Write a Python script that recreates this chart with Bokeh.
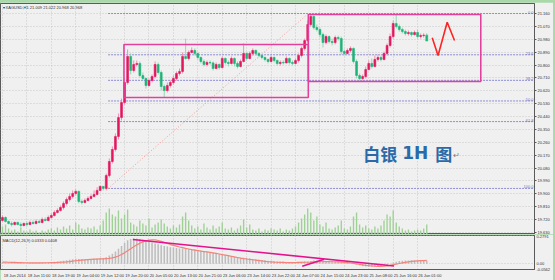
from bokeh.plotting import figure
from bokeh.models import Range1d, FixedTicker, Label, PrintfTickFormatter, ColumnDataSource
from bokeh.layouts import column
from bokeh.embed import file_html
from bokeh.resources import INLINE
from bokeh.core.properties import value

# ---------------- data (XAGUSD, H1) ----------------
first_open = 19.714
closes = [
    19.735, 19.707, 19.693, 19.686, 19.700, 19.686, 19.679, 19.693, 19.686, 19.700,
    19.693, 19.707, 19.700, 19.721, 19.714, 19.735, 19.749, 19.770, 19.784, 19.805,
    19.833, 19.861, 19.882, 19.903, 19.917, 19.847, 19.840, 19.854, 19.868, 19.882,
    19.896, 19.924, 19.952, 19.938, 20.028, 20.126, 20.210, 20.301, 20.433, 20.538,
    20.678, 20.860, 20.762, 20.804, 20.811, 20.727, 20.706, 20.657, 20.692, 20.720,
    20.804, 20.748, 20.650, 20.622, 20.657, 20.678, 20.706, 20.741, 20.755, 20.860,
    20.846, 20.888, 20.902, 20.881, 20.853, 20.825, 20.804, 20.818, 20.815, 20.776,
    20.804, 20.783, 20.846, 20.818, 20.811, 20.846, 20.811, 20.790, 20.825, 20.881,
    20.846, 20.881, 20.902, 20.881, 20.867, 20.853, 20.839, 20.825, 20.853, 20.832,
    20.811, 20.818, 20.815, 20.846, 20.818, 20.811, 20.832, 20.867, 20.916, 20.971,
    21.083, 21.139, 21.062, 21.048, 21.013, 20.957, 20.999, 20.964, 20.957, 20.992,
    20.985, 20.895, 20.881, 20.902, 20.916, 20.825, 20.727, 20.706, 20.720, 20.769,
    20.811, 20.790, 20.839, 20.853, 20.839, 20.881, 20.937, 20.999, 21.090, 21.069,
    21.048, 21.034, 21.020, 21.027, 21.013, 21.027, 20.999, 21.006, 21.009, 20.968,
]
highs = [
    19.749, 19.742, 19.714, 19.707, 19.707, 19.707, 19.700, 19.700, 19.707, 19.714,
    19.714, 19.721, 19.721, 19.735, 19.735, 19.749, 19.763, 19.784, 19.798, 19.819,
    19.847, 19.875, 19.903, 19.924, 19.931, 19.924, 19.861, 19.868, 19.882, 19.896,
    19.924, 19.945, 19.959, 19.952, 20.042, 20.147, 20.231, 20.322, 20.461, 20.566,
    20.706, 20.909, 20.881, 20.832, 20.832, 20.825, 20.748, 20.713, 20.706, 20.734,
    20.825, 20.818, 20.762, 20.664, 20.678, 20.692, 20.727, 20.755, 20.776, 20.888,
    20.985, 20.902, 20.923, 20.916, 20.888, 20.860, 20.839, 20.832, 20.832, 20.825,
    20.818, 20.811, 20.860, 20.853, 20.832, 20.860, 20.853, 20.825, 20.839, 20.951,
    20.888, 20.895, 20.916, 20.909, 20.888, 20.874, 20.860, 20.846, 20.867, 20.860,
    20.839, 20.832, 20.832, 20.860, 20.853, 20.832, 20.846, 20.881, 20.930, 20.985,
    21.111, 21.153, 21.160, 21.083, 21.062, 21.027, 21.013, 21.006, 20.985, 21.006,
    21.006, 20.999, 20.909, 20.916, 20.930, 20.923, 20.839, 20.741, 20.734, 20.790,
    20.832, 20.846, 20.867, 20.874, 20.867, 20.895, 20.951, 21.020, 21.111, 21.160,
    21.083, 21.062, 21.048, 21.041, 21.034, 21.041, 21.048, 21.020, 21.022, 21.022,
]
lows = [
    19.707, 19.700, 19.686, 19.672, 19.679, 19.679, 19.665, 19.672, 19.672, 19.679,
    19.686, 19.686, 19.693, 19.693, 19.707, 19.707, 19.728, 19.742, 19.763, 19.777,
    19.791, 19.819, 19.847, 19.868, 19.889, 19.833, 19.826, 19.833, 19.847, 19.861,
    19.875, 19.889, 19.924, 19.924, 19.924, 20.014, 20.112, 20.196, 20.280, 20.413,
    20.524, 20.664, 20.734, 20.748, 20.790, 20.713, 20.692, 20.636, 20.650, 20.678,
    20.706, 20.734, 20.622, 20.573, 20.608, 20.643, 20.664, 20.692, 20.727, 20.741,
    20.839, 20.832, 20.881, 20.867, 20.839, 20.811, 20.790, 20.790, 20.804, 20.762,
    20.769, 20.769, 20.776, 20.804, 20.790, 20.804, 20.790, 20.776, 20.783, 20.818,
    20.832, 20.839, 20.867, 20.867, 20.853, 20.839, 20.825, 20.811, 20.818, 20.818,
    20.797, 20.797, 20.804, 20.811, 20.804, 20.797, 20.804, 20.818, 20.853, 20.902,
    20.958, 21.069, 21.048, 21.034, 20.992, 20.923, 20.944, 20.951, 20.937, 20.944,
    20.971, 20.874, 20.867, 20.874, 20.888, 20.811, 20.706, 20.692, 20.692, 20.706,
    20.762, 20.776, 20.783, 20.825, 20.825, 20.832, 20.867, 20.923, 20.985, 21.055,
    21.034, 21.020, 21.006, 21.006, 20.999, 21.006, 20.985, 20.985, 20.992, 20.968,
]
volumes = [
    800, 1000, 600, 400, 500, 300, 700, 400, 300, 500,
    300, 400, 200, 400, 300, 500, 600, 400, 700, 500,
    800, 600, 900, 500, 1200, 1000, 600, 500, 700, 600,
    800, 500, 900, 1400, 2200, 2600, 2000, 1800, 2400, 1600,
    2000, 2500, 1200, 1000, 800, 1400, 1100, 900, 1600, 700,
    1000, 1200, 1500, 1100, 800, 600, 900, 700, 1000, 1800,
    2200, 1400, 900, 600, 800, 500, 1100, 700, 500, 900,
    600, 800, 1200, 600, 500, 700, 400, 600, 900, 1500,
    700, 1000, 500, 400, 600, 300, 500, 400, 600, 500,
    400, 600, 300, 500, 400, 600, 800, 1200, 1600, 2000,
    2600, 2200, 1400, 1800, 1000, 800, 1200, 600, 500, 700,
    900, 1400, 600, 500, 800, 1800, 2200, 1000, 700, 900,
    600, 500, 800, 600, 900, 1400, 2000, 1800, 2400, 1200,
    800, 600, 400, 500, 300, 400, 500, 400, 600, 1000,
]
macd_main = [
    0.015, 0.013, 0.012, 0.010, 0.010, 0.009, 0.008, 0.008, 0.008, 0.008,
    0.009, 0.009, 0.010, 0.011, 0.012, 0.014, 0.016, 0.019,
    0.022, 0.026, 0.030, 0.035, 0.040, 0.045, 0.050, 0.048, 0.047, 0.046,
    0.046, 0.047, 0.049, 0.052, 0.055, 0.056,
    0.065, 0.082, 0.100, 0.122, 0.148, 0.175, 0.205, 0.232,
    0.245, 0.250, 0.250, 0.246, 0.238, 0.228, 0.218, 0.208, 0.200,
    0.192, 0.184, 0.176, 0.170, 0.164, 0.160, 0.156, 0.152, 0.150, 0.148,
    0.146, 0.143, 0.140, 0.136, 0.132,
    0.126, 0.120, 0.114, 0.107, 0.100, 0.095, 0.090, 0.084, 0.078, 0.070,
    0.066, 0.062, 0.060, 0.060, 0.056,
    0.052, 0.048, 0.045, 0.042, 0.038, 0.034, 0.030, 0.027, 0.025, 0.023,
    0.021, 0.020, 0.018, 0.017, 0.015, 0.014, 0.016, 0.020, 0.026,
    0.022, 0.028, 0.032, 0.033, 0.032, 0.030, 0.028, 0.026, 0.024, 0.022,
    0.020, 0.016, 0.012, 0.008, 0.004,
    -0.002, -0.010, -0.018, -0.024, -0.028, -0.030, -0.030, -0.029, -0.027, -0.024,
    -0.018, -0.010, 0.000, 0.012, 0.020,
    0.027, 0.030, 0.032, 0.033, 0.034, 0.034, 0.034, 0.033, 0.033, 0.031,
]
macd_signal = [
    0.016, 0.016, 0.015, 0.014, 0.013, 0.012, 0.011, 0.010, 0.010, 0.009,
    0.009, 0.009, 0.009, 0.009, 0.010, 0.010, 0.011, 0.012,
    0.013, 0.015, 0.017, 0.019, 0.022, 0.026, 0.030, 0.033, 0.036, 0.039,
    0.042, 0.044, 0.046, 0.047, 0.048, 0.049,
    0.050, 0.053, 0.058, 0.066, 0.077, 0.091, 0.108, 0.128,
    0.148, 0.168, 0.187, 0.203, 0.216, 0.226, 0.233, 0.237, 0.236,
    0.230, 0.222, 0.212, 0.201, 0.190, 0.182, 0.174, 0.166, 0.159, 0.152,
    0.146, 0.140, 0.135, 0.130, 0.125,
    0.121, 0.117, 0.113, 0.108, 0.103, 0.097, 0.091, 0.086, 0.080, 0.074,
    0.068, 0.062, 0.056, 0.051, 0.047,
    0.044, 0.040, 0.036, 0.032, 0.028, 0.024, 0.020, 0.018, 0.016, 0.015,
    0.014, 0.013, 0.012, 0.012, 0.012, 0.012, 0.013, 0.014, 0.015,
    0.015, 0.016, 0.018, 0.019, 0.020, 0.021, 0.021, 0.021, 0.020, 0.019,
    0.018, 0.016, 0.014, 0.011, 0.008,
    0.004, 0.000, -0.005, -0.010, -0.015, -0.019, -0.022, -0.024, -0.025, -0.025,
    -0.023, -0.020, -0.015, -0.009, -0.003,
    0.003, 0.009, 0.014, 0.019, 0.023, 0.026, 0.029, 0.031, 0.032, 0.033,
]
time_tick_bars = [0, 8, 16, 24, 32, 40, 48, 56, 64, 72, 80, 88, 96, 104, 112, 120, 128, 136]
time_tick_labels = [
    "18 Jun 2014", "18 Jun 11:00", "18 Jun 19:00", "19 Jun 04:00", "19 Jun 12:00",
    "19 Jun 20:00", "20 Jun 05:00", "20 Jun 13:00", "20 Jun 21:00", "23 Jun 06:00",
    "23 Jun 14:00", "23 Jun 22:00", "24 Jun 07:00", "24 Jun 15:00", "24 Jun 23:00",
    "25 Jun 08:00", "25 Jun 16:00", "26 Jun 01:00",
]
price_ticks = [19.630, 19.720, 19.810, 19.900, 19.990, 20.080, 20.170, 20.260, 20.350,
               20.440, 20.530, 20.620, 20.710, 20.800, 20.890, 20.980, 21.070, 21.160]
macd_ticks = [-0.0562, 0.0, 0.2791]
macd_tick_labels = ["-0.0562", "0.00", "0.2791"]

# Fibonacci retracement
fib_low, fib_high = 19.938, 21.160
fib_start_bar, fib_end_bar = 34.6, 100.2
fib_levels = [0.0, 23.6, 38.2, 50.0, 61.8, 100.0]
fib_labels = ["0.0", "23.6", "38.2", "50.0", "61.8", "100.0"]

# rectangles (ranges) drawn on the chart
box_left = [39.8, 100.2]
box_right = [100.2, 156.7]
box_top = [20.944, 21.153]
box_bottom = [20.573, 20.685]

# projected zig-zag
zig_bar = [140.8, 142.7, 145.7, 148.1]
zig_price = [20.990, 20.867, 21.099, 20.971]

# MACD trend lines
trend_a_bar = [42.7, 128.3]
trend_a_val = [0.240, -0.0215]
trend_b_bar = [98.2, 105.4]
trend_b_val = [-0.0244, 0.044]

header_text = "\u25be XAGUSD,H1  21.009 21.022 20.968 20.968"
macd_text = "MACD(12,26,9) 0.0333 0.0408"
last_price = 20.968
note_parts = ["\u767d\u94f6", "1H", "\u56fe", "\u21b5"]
note_bar, note_price = 118.2, 20.182

# ---------------- build ----------------
n = len(closes)
bars = list(range(n))
opens = [first_open] + closes[:-1]
is_up = [c >= o for o, c in zip(opens, closes)]
UP, DOWN = "#e3175f", "#1fb377"
src = ColumnDataSource(dict(
    x=bars, h=highs, l=lows,
    top=[max(o, c) for o, c in zip(opens, closes)],
    bottom=[min(o, c) for o, c in zip(opens, closes)],
    bc=[UP if u else DOWN for u in is_up],
    wc=["#f08fae" if u else "#8fd8b8" for u in is_up],
    vol=volumes, macd=macd_main, sig=macd_signal,
))

X0, X1 = -0.65, 174.3
xr = Range1d(X0, X1)
BG = "#f0f0f0"
AX = "#5a5a5a"
FONT = "Liberation Sans"
CHROME = "#a9d8a9"
NOTE_BLUE = "#2b6aa8"

p = figure(width=553, height=232, x_range=xr, y_range=Range1d(19.616, 21.230),
           x_axis_location=None, y_axis_location="right",
           toolbar_location=None, output_backend="svg",
           min_border_left=0, min_border_right=17, min_border_top=1, min_border_bottom=0,
           background_fill_color=BG, border_fill_color=BG, outline_line_color=AX)
p.extra_y_ranges = {"vol": Range1d(0, 23000)}

ya = p.yaxis[0]
ya.ticker = FixedTicker(ticks=price_ticks)
ya.formatter = PrintfTickFormatter(format="%.3f")
ya.major_label_text_font_size = "4px"
ya.major_label_text_font = FONT
ya.major_label_text_color = "#303030"
ya.axis_line_color = AX
ya.major_tick_line_color = AX
ya.major_tick_out = 2
ya.major_tick_in = 0
ya.minor_tick_line_color = None
ya.major_label_standoff = 1

p.ygrid.ticker = FixedTicker(ticks=price_ticks)
p.xgrid.ticker = FixedTicker(ticks=time_tick_bars)
for g in (p.xgrid[0], p.ygrid[0]):
    g.grid_line_color = "#c8c8c8"
    g.grid_line_dash = "1 2"

# volume
p.vbar(x="x", width=0.45, top="vol", bottom=0, y_range_name="vol",
       fill_color="#9fd196", line_color=None, source=src)

# fibonacci
fib_prices = [fib_high - (fib_high - fib_low) * lv / 100.0 for lv in fib_levels]
p.segment(x0=[fib_start_bar] * len(fib_prices), x1=[X1] * len(fib_prices),
          y0=fib_prices, y1=fib_prices, line_color="#8c8cd6", line_dash="2 1", line_width=1)
p.text(x=[X1] * len(fib_prices), y=fib_prices, text=fib_labels, x_offset=-1,
       text_align="right", text_baseline="bottom", text_font_size="4px",
       text_color="#7878c0", text_font=value(FONT))
p.line([fib_start_bar, fib_end_bar], [fib_low, fib_high], line_color="#f29a9a",
       line_dash="1 2", line_width=1)

# candles
p.segment(x0="x", x1="x", y0="l", y1="h", line_color="wc", line_width=1, source=src)
p.vbar(x="x", width=0.62, top="top", bottom="bottom", fill_color="bc", line_color="bc",
       line_width=0.6, source=src)

# boxes & zigzag
p.quad(left=box_left, right=box_right, top=box_top, bottom=box_bottom,
       fill_alpha=0, line_color="#e2409c", line_width=1.6)
p.line(zig_bar, zig_price, line_color="#ff2424", line_width=1.6)

p.add_layout(Label(x=X0, y=21.230, x_offset=2, y_offset=-1, text=header_text,
                   text_baseline="top", text_font_size="4px", text_font=FONT,
                   text_color="#303030"))
# note "白银 1H 图↵"
p.add_layout(Label(x=note_bar, y=note_price, text=note_parts[0], text_baseline="middle",
                   text_font="Noto Sans CJK SC", text_font_style="bold",
                   text_font_size="17px", text_color=NOTE_BLUE))
p.add_layout(Label(x=note_bar, y=note_price, x_offset=39, text=note_parts[1],
                   text_baseline="middle", text_font="DejaVu Sans", text_font_style="bold",
                   text_font_size="17px", text_color=NOTE_BLUE))
p.add_layout(Label(x=note_bar, y=note_price, x_offset=72, text=note_parts[2],
                   text_baseline="middle", text_font="Noto Sans CJK SC",
                   text_font_style="bold", text_font_size="17px", text_color=NOTE_BLUE))
p.add_layout(Label(x=note_bar, y=note_price, x_offset=90, y_offset=-2, text=note_parts[3],
                   text_baseline="middle", text_font="DejaVu Sans",
                   text_font_size="8px", text_color="#808080"))
p.add_layout(Label(x=X1, y=last_price, x_offset=1, text="20.968", text_baseline="middle",
                   text_font_size="4px", text_font=FONT, text_color="white",
                   background_fill_color="black"))

# ---------------- MACD panel ----------------
q = figure(width=553, height=46, x_range=xr, y_range=Range1d(-0.0565, 0.2795),
           y_axis_location="right", x_axis_location="below",
           toolbar_location=None, output_backend="svg",
           min_border_left=0, min_border_right=17, min_border_top=1, min_border_bottom=11,
           background_fill_color=BG, border_fill_color=BG, outline_line_color=AX)
q.xgrid.ticker = FixedTicker(ticks=time_tick_bars)
q.ygrid.ticker = FixedTicker(ticks=macd_ticks)
for g in (q.xgrid[0], q.ygrid[0]):
    g.grid_line_color = "#c8c8c8"
    g.grid_line_dash = "1 2"

q.vbar(x="x", width=0.5, top="macd", bottom=0, fill_color="#bdbdbd", line_color=None, source=src)
q.line(x="x", y="sig", line_color="#f4837b", line_width=1.2, source=src)
q.line(trend_a_bar, trend_a_val, line_color="#e3128c", line_width=1.6)
q.line(trend_b_bar, trend_b_val, line_color="#e3128c", line_width=1.6)
q.add_layout(Label(x=X0, y=0.2795, x_offset=2, y_offset=-2, text=macd_text,
                   text_baseline="top", text_font_size="4px", text_font=FONT,
                   text_color="#303030"))

xa = q.xaxis[0]
label_bars = [b + 4 for b in time_tick_bars]
xa.ticker = FixedTicker(ticks=label_bars)
xa.major_label_overrides = {b: t for b, t in zip(label_bars, time_tick_labels)}
xa.major_label_text_font_size = "4px"
xa.major_label_text_font = FONT
xa.major_label_text_color = "#303030"
xa.axis_line_color = AX
xa.major_tick_out = 0
xa.major_tick_in = 0
xa.minor_tick_line_color = None
xa.major_label_standoff = 3

qa = q.yaxis[0]
qa.ticker = FixedTicker(ticks=macd_ticks)
qa.major_label_overrides = {v: t for v, t in zip(macd_ticks, macd_tick_labels)}
qa.major_label_text_font_size = "4px"
qa.major_label_text_font = FONT
qa.major_label_text_color = "#303030"
qa.axis_line_color = AX
qa.major_tick_out = 0
qa.major_tick_in = 0
qa.minor_tick_line_color = None
qa.major_label_standoff = 2

layout = column(p, q, spacing=0,
                styles={"background-color": CHROME, "padding-top": "2px", "padding-right": "2px"})
open("out.html", "w").write(file_html(layout, INLINE))
